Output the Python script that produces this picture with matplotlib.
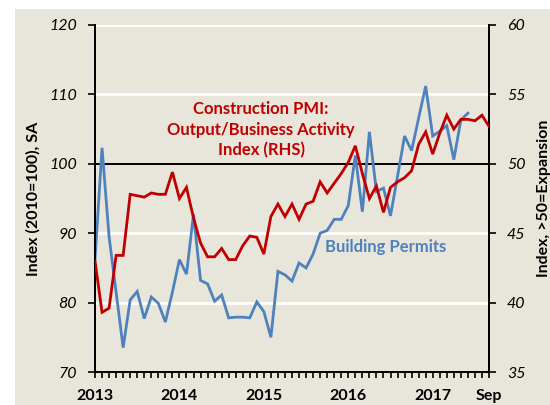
import matplotlib
matplotlib.use("Agg")
import matplotlib.pyplot as plt
import numpy as np
from matplotlib.patches import Rectangle

plt.rcParams.update({"font.family": ["Lato", "DejaVu Sans"]})

C_RED = "#C00000"; C_BLUE = "#4F81BD"; C_BG = "#E8E6DA"

# monthly, Jan 2013 .. Sep 2017 (index 0..56)
pmi = [43.0, 39.3, 39.6, 43.4, 43.4, 47.8, 47.7, 47.6, 47.9, 47.8, 47.8, 49.4,
       47.5, 48.3, 46.1, 44.3, 43.3, 43.3, 43.9, 43.1, 43.1, 44.1, 44.8, 44.7,
       43.5, 46.2, 47.1, 46.2, 47.1, 46.0, 47.1, 47.3, 48.7, 47.9, 48.6, 49.3,
       50.1, 51.3, 49.3, 47.5, 48.4, 46.5, 48.3, 48.7, 49.0, 49.5, 51.4, 52.3,
       50.7, 52.2, 53.5, 52.5, 53.2, 53.2, 53.1, 53.5, 52.7]
# Jan 2013 .. Jun 2017
permits = [86.2, 102.3, 89.5, 81.5, 73.5, 80.4, 81.6, 77.7, 80.8, 79.9, 77.2, 81.5,
           86.2, 84.1, 92.7, 83.2, 82.7, 80.2, 81.1, 77.8, 77.9, 77.9, 77.8, 80.1,
           78.7, 75.0, 84.5, 84.0, 83.1, 85.7, 85.0, 87.0, 90.0, 90.4, 92.0, 92.0,
           94.0, 101.2, 93.1, 104.6, 96.0, 96.5, 92.5, 98.2, 104.0, 101.9, 106.6, 111.2,
           104.0, 104.7, 105.5, 100.6, 106.3, 107.3]
year_pos = [0, 12, 24, 36, 48, 56]
year_lbl = ["2013", "2014", "2015", "2016", "2017", "Sep"]

fig = plt.figure(figsize=(5.5, 4.05), dpi=100)
bg = fig.add_axes([0, 0, 1, 1], zorder=-10)
bg.set_xlim(0, 550); bg.set_ylim(405, 0); bg.axis("off")
bg.add_patch(Rectangle((15, 9), 535, 396, facecolor=C_BG, edgecolor="none"))

ax = fig.add_axes([95/550, 33/405, 394/550, 347/405])
ax.set_facecolor("none")
ax2 = ax.twinx()

for y in (80, 90, 110, 120):
    ax.axhline(y, color="white", lw=2, zorder=1)
ax.axhline(100, color="black", lw=1.4, zorder=1)

ax.plot(np.arange(len(permits)), permits, color=C_BLUE, lw=2, zorder=3, solid_joinstyle="miter")
ax2.plot(np.arange(len(pmi)), pmi, color=C_RED, lw=2, zorder=3, solid_joinstyle="miter")

ax.set_xlim(0, 56)
ax.set_ylim(70, 120)
ax2.set_ylim(35, 60)
ax.set_yticks(range(70, 121, 10))
ax2.set_yticks(range(35, 61, 5))
ax.set_xticks(range(57), minor=True)
ax.set_xticks(year_pos)
ax.set_xticklabels(year_lbl, fontsize=11.5, fontweight="bold")
ax.tick_params(axis="x", which="both", length=4, width=1.2, direction="out", pad=8)
for a in (ax, ax2):
    a.tick_params(axis="y", length=5, width=1.2, direction="out", labelsize=11.5, pad=8)
    for lab in a.get_yticklabels():
        lab.set_fontstyle("italic")
    for s in a.spines.values():
        s.set_linewidth(1.4)
    a.spines["top"].set_visible(False)

ax.set_ylabel("Index (2010=100), SA", fontsize=11.5, fontweight="bold", labelpad=6)
ax2.set_ylabel("Index, >50=Expansion", fontsize=11.5, fontweight="bold", labelpad=8)

fig.text(261/550, 1-130/405, "Construction PMI:\nOutput/Business Activity\nIndex (RHS)",
         ha="center", va="center", fontsize=12, fontweight="bold", color=C_RED, linespacing=1.35)
fig.text(386/550, 1-247/405, "Building Permits", ha="center", va="center",
         fontsize=12, fontweight="bold", color=C_BLUE)

fig.savefig("out.png", dpi=100)
